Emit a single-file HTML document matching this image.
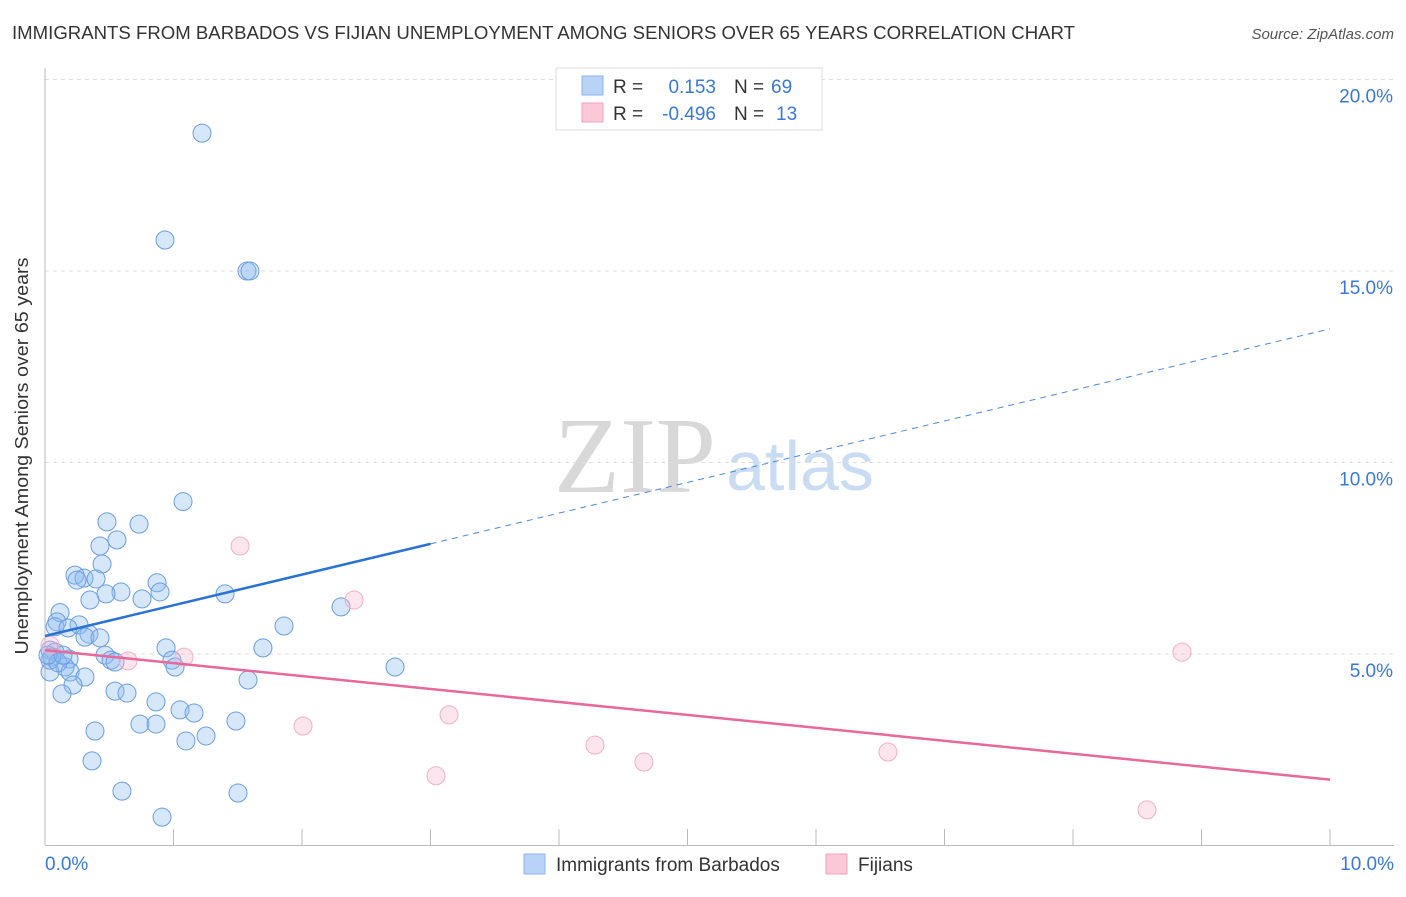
<!DOCTYPE html>
<html><head><meta charset="utf-8"><style>
body{margin:0;background:#fff;font-family:"Liberation Sans",sans-serif;}
svg text{font-family:"Liberation Sans",sans-serif;}
</style></head><body>
<svg id="c" width="1406" height="892" xmlns="http://www.w3.org/2000/svg">
<text x="12" y="39" font-size="18" fill="#333" textLength="1063" lengthAdjust="spacingAndGlyphs">IMMIGRANTS FROM BARBADOS VS FIJIAN UNEMPLOYMENT AMONG SENIORS OVER 65 YEARS CORRELATION CHART</text>
<text x="1394" y="39" font-size="15" fill="#555" text-anchor="end" font-style="italic">Source: ZipAtlas.com</text>
<text x="28" y="456" font-size="18" fill="#333" text-anchor="middle" textLength="397" lengthAdjust="spacingAndGlyphs" transform="rotate(-90 28 456)">Unemployment Among Seniors over 65 years</text>
<g>
<text x="635" y="492" font-size="108" fill="#d8d8d8" text-anchor="middle" style="font-family:'Liberation Serif',serif">ZIP</text>
<text x="800" y="490" font-size="70" fill="#c9dcf2" text-anchor="middle">atlas</text>
</g>
<g id="grid"></g><g id="axes"></g><g id="marks"></g>
<g>
<rect x="556" y="68" width="266" height="62" fill="#fff" stroke="#ddd"/>
<rect x="582" y="76" width="21" height="19" fill="#b8d3f5" stroke="#8ab4ea"/>
<rect x="582" y="103" width="21" height="19" fill="#fbc8d8" stroke="#f0a0bc"/>
<text x="613" y="93" font-size="19" fill="#333">R =</text><text x="716" y="93" font-size="19" fill="#3a78d8" text-anchor="end">0.153</text>
<text x="734" y="93" font-size="19" fill="#333">N =</text><text x="771" y="93" font-size="19" fill="#3a78d8">69</text>
<text x="613" y="120" font-size="19" fill="#333">R =</text><text x="716" y="120" font-size="19" fill="#3a78d8" text-anchor="end">-0.496</text>
<text x="734" y="120" font-size="19" fill="#333">N =</text><text x="776" y="120" font-size="19" fill="#3a78d8">13</text>
</g>
<g>
<rect x="524" y="854" width="21" height="20" fill="#b8d3f5" stroke="#8ab4ea"/>
<text x="556" y="871" font-size="19" fill="#333">Immigrants from Barbados</text>
<rect x="826" y="854" width="21" height="20" fill="#fbc8d8" stroke="#f0a0bc"/>
<text x="858" y="871" font-size="19" fill="#333">Fijians</text>
</g>
</svg>
<script>
const blueX=[1.222,0.934,1.572,1.595,1.074,0.482,0.732,0.560,0.428,0.444,0.233,0.304,0.397,0.249,0.872,0.895,0.591,0.475,0.350,0.755,1.401,0.117,2.304,0.093,0.078,0.265,0.179,0.342,0.311,0.428,1.860,0.942,1.696,0.039,0.078,0.054,0.467,0.514,0.545,0.988,1.012,0.187,0.156,0.195,2.724,0.039,0.311,1.580,0.218,0.545,0.638,0.132,0.864,1.051,1.160,1.486,0.739,0.864,0.389,1.097,1.253,0.366,0.599,1.502,0.911,0.039,0.101,0.023,0.140];
const blueY=[18.60,15.81,15.0,15.0,8.98,8.45,8.39,7.98,7.82,7.35,7.06,6.98,6.96,6.93,6.86,6.62,6.62,6.57,6.41,6.44,6.57,6.08,6.23,5.84,5.71,5.76,5.68,5.52,5.44,5.42,5.73,5.16,5.16,5.10,5.05,4.92,4.97,4.84,4.79,4.84,4.66,4.87,4.66,4.53,4.66,4.53,4.40,4.32,4.19,4.03,3.98,3.96,3.75,3.54,3.46,3.25,3.17,3.17,2.99,2.73,2.86,2.21,1.42,1.37,0.74,4.84,4.77,4.97,4.97];
const pinkX=[0.039,0.646,1.082,1.518,2.405,2.008,3.144,3.043,4.280,4.661,6.560,8.848,8.576];
const pinkY=[5.23,4.82,4.92,7.82,6.41,3.12,3.41,1.82,2.62,2.18,2.44,5.05,0.93];
const blueTrend=[5.47,13.49];
const blueSolidEnd=3.0;
const pinkTrend=[5.10,1.72];
const yTicks=[5,10,15,20];
const yTickLabels=["5.0%","10.0%","15.0%","20.0%"];
const xTicks=[0,1,2,3,4,5,6,7,8,9,10];
const NS="http://www.w3.org/2000/svg";
const sx=v=>45+v*128.5, sy=v=>845.5-v*38.3;
function mk(t,a,p){const e=document.createElementNS(NS,t);for(const k in a)e.setAttribute(k,a[k]);document.getElementById(p).appendChild(e);return e;}
yTicks.forEach((t,i)=>{
 const g=mk('line',{x1:45,x2:1394,y1:sy(t),y2:sy(t),stroke:'#ddd','stroke-dasharray':'4,4'},'grid');
 
 
 const l=mk('text',{x:1393,y:sy(t)+23,'font-size':19,fill:'#3a78d8','text-anchor':'end'},'axes');
 l.textContent=yTickLabels[i];
 
 
});
const ax=mk('line',{x1:45,x2:1394,y1:845.5,y2:845.5,stroke:'#bbb'},'axes');


const ay=mk('line',{x1:45,x2:45,y1:68,y2:845.5,stroke:'#bbb'},'axes');


xTicks.forEach(t=>{const e=mk('line',{x1:sx(t),x2:sx(t),y1:829,y2:845.5,stroke:'#bbb'},'axes');
 
 });
const x0=mk('text',{x:45,y:870,'font-size':19,fill:'#3a78d8'},'axes');x0.textContent='0.0%';


const x1=mk('text',{x:1394,y:870,'font-size':19,fill:'#3a78d8','text-anchor':'end'},'axes');x1.textContent='10.0%';


blueX.forEach((x,i)=>{const c=mk('circle',{cx:sx(x),cy:sy(blueY[i]),r:9,fill:'rgba(140,185,240,0.35)',stroke:'#6a9de0','stroke-width':1},'marks');
 
 });
pinkX.forEach((x,i)=>{const c=mk('circle',{cx:sx(x),cy:sy(pinkY[i]),r:9,fill:'rgba(248,180,205,0.35)',stroke:'#f0b0c6','stroke-width':1},'marks');
 
 });
const by=x=>blueTrend[0]+(blueTrend[1]-blueTrend[0])*x/10;
const t1=mk('line',{x1:sx(0),y1:sy(by(0)),x2:sx(blueSolidEnd),y2:sy(by(blueSolidEnd)),stroke:'#2a72d4','stroke-width':2.5},'marks');


const t2=mk('line',{x1:sx(blueSolidEnd),y1:sy(by(blueSolidEnd)),x2:sx(10),y2:sy(by(10)),stroke:'#4a88dc','stroke-width':1,'stroke-dasharray':'6,5'},'marks');


const t3=mk('line',{x1:sx(0),y1:sy(pinkTrend[0]),x2:sx(10),y2:sy(pinkTrend[1]),stroke:'#e8689a','stroke-width':2.5},'marks');


</script>
</body></html>
